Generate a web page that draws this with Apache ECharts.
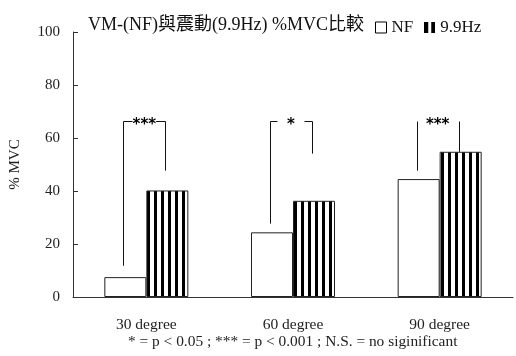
<!DOCTYPE html>
<html><head><meta charset="utf-8">
<script src="https://cdn.jsdelivr.net/npm/echarts@6/dist/echarts.min.js"></script>
<style>html,body{margin:0;padding:0;background:#fff}#c{width:516px;height:356px}</style>
</head><body><div id="c"></div>
<script>
const categories = ['30 degree', '60 degree', '90 degree'];
const nfValues = [7.5, 24.4, 44.5];
const hzValues = [40.2, 36.3, 54.8];
const yTicks = [0, 20, 40, 60, 80, 100];
// significance brackets: [categoryIndex, leftLineBottom, top, rightLineBottom]
const bracketData = [[0, 11.8, 66.5, 47.7], [1, 27.7, 66.5, 54.1], [2, 47.7, 66.5, 54.8]];
const bracketLabels = ['***', '*', '***'];
const bracketKinds = ['full', 'gap', 'none'];
const footnote = '* = p < 0.05 ; *** = p < 0.001 ; N.S. = no siginificant';

const FONT = '"Liberation Serif", "Noto Sans CJK TC", serif';

function stripe(period, black) {
  const cv = document.createElement('canvas');
  cv.width = period; cv.height = 4;
  const g = cv.getContext('2d');
  g.fillStyle = '#fff'; g.fillRect(0, 0, period, 4);
  g.fillStyle = '#000'; g.fillRect(0, 0, black, 4);
  return cv;
}
function legendIcon() {
  const cv = document.createElement('canvas');
  cv.width = 11; cv.height = 11;
  const g = cv.getContext('2d');
  g.fillStyle = '#000'; g.fillRect(0, 0, 11, 11);
  g.fillStyle = '#fff'; g.fillRect(4, 0, 3, 11);
  return cv;
}
const stripePattern = { image: stripe(7, 3), repeat: 'repeat' };

const chart = echarts.init(document.getElementById('c'), null, { renderer: 'canvas' });
chart.setOption({
  animation: false,
  textStyle: { fontFamily: FONT },
  title: {
    text: 'VM-(NF)與震動(9.9Hz) %MVC比較',
    left: 83, top: 11,
    textStyle: { fontFamily: FONT, fontSize: 18, fontWeight: 'normal', color: '#111' }
  },
  legend: {
    left: 370, top: 14,
    itemWidth: 11, itemHeight: 11, itemGap: 11, itemTextGap: 3,
    textStyle: { fontFamily: FONT, fontSize: 17, color: '#111' },
    data: [
      { name: 'NF', icon: 'rect', itemStyle: { color: '#fff', borderColor: '#000', borderWidth: 1 } },
      { name: '9.9Hz', icon: 'image://' + legendIcon().toDataURL() }
    ]
  },
  grid: { left: 73, right: 3, top: 32, bottom: 59 },
  xAxis: {
    type: 'category', data: categories,
    axisLine: { lineStyle: { color: '#333', width: 1 } },
    axisTick: { inside: true, length: 5, lineStyle: { color: '#333' } },
    axisLabel: { fontFamily: FONT, fontSize: 15.5, color: '#222', margin: 20 }
  },
  yAxis: {
    type: 'value', min: 0, max: 100, interval: 20,
    name: '% MVC', nameLocation: 'middle', nameGap: 50, nameRotate: 90,
    nameTextStyle: { fontFamily: FONT, fontSize: 15, color: '#222' },
    axisLine: { show: true, lineStyle: { color: '#333', width: 1 } },
    axisTick: { show: true, inside: true, length: 5, lineStyle: { color: '#333' } },
    splitLine: { show: false },
    axisLabel: { fontFamily: FONT, fontSize: 15, color: '#222', margin: 13,
      formatter: v => yTicks.includes(v) ? String(v) : '' }
  },
  series: [
    { name: 'NF', type: 'bar', data: nfValues, barWidth: 42, barGap: '0%',
      itemStyle: { color: '#fff', borderColor: '#222', borderWidth: 1 } },
    { name: '9.9Hz', type: 'bar', data: hzValues, barWidth: 42, barGap: '0%',
      itemStyle: { color: stripePattern, borderColor: '#222', borderWidth: 1 } },
    { type: 'custom', data: bracketData, silent: true, z: 5,
      renderItem: function (params, api) {
        const i = params.dataIndex;
        const c = api.value(0);
        const pL = api.coord([c, api.value(1)]);
        const pT = api.coord([c, api.value(2)]);
        const pR = api.coord([c, api.value(3)]);
        const cx = pT[0];
        const xl = Math.round(cx - 23) + 0.5, xr = Math.round(cx + 19) + 0.5;
        const yt = Math.round(pT[1]) + 0.5;
        const ls = { stroke: '#111', lineWidth: 1 };
        const ch = [
          { type: 'line', shape: { x1: xl, y1: pL[1], x2: xl, y2: yt }, style: ls },
          { type: 'line', shape: { x1: xr, y1: yt, x2: xr, y2: pR[1] }, style: ls }
        ];
        const kind = bracketKinds[i];
        if (kind === 'full') {
          ch.push({ type: 'line', shape: { x1: xl, y1: yt, x2: xr, y2: yt }, style: ls });
        } else if (kind === 'gap') {
          ch.push({ type: 'line', shape: { x1: xl, y1: yt, x2: xl + 7, y2: yt }, style: ls });
          ch.push({ type: 'line', shape: { x1: xr - 8, y1: yt, x2: xr, y2: yt }, style: ls });
        }
        ch.push({ type: 'text', style: { text: bracketLabels[i], x: cx - 2, y: yt + 4,
          align: 'center', verticalAlign: 'middle', fill: '#000',
          font: 'bold 15px "DejaVu Sans", sans-serif',
          backgroundColor: kind === 'full' ? '#fff' : null } });
        return { type: 'group', children: ch };
      }
    }
  ],
  graphic: [{
    type: 'text', left: 128, top: 334,
    style: { text: footnote, font: '15.4px ' + FONT, fill: '#222' }
  }]
});
</script></body></html>
